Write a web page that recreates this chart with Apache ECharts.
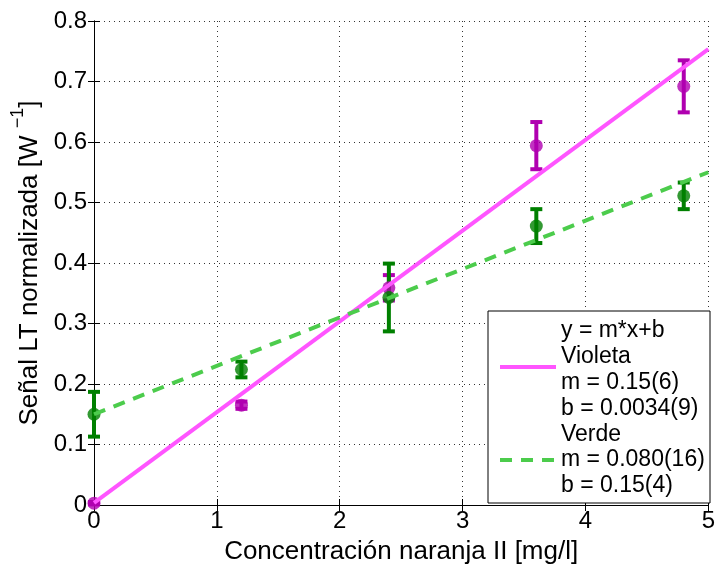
<!DOCTYPE html>
<html>
<head>
<meta charset="utf-8">
<script src="https://cdn.jsdelivr.net/npm/echarts@6/dist/echarts.min.js"></script>
<style>
html,body{margin:0;padding:0;background:#fff;}
#chart{width:718px;height:570px;}
</style>
</head>
<body>
<div id="chart"></div>
<script>
// ---- data ----
const concentrations = [0, 1.2, 2.4, 3.6, 4.8];
const violetValues = [0.003, 0.165, 0.359, 0.594, 0.692];
const violetErrors = [0.002, 0.006, 0.021, 0.039, 0.043];
const greenValues = [0.150, 0.224, 0.343, 0.461, 0.511];
const greenErrors = [0.037, 0.013, 0.056, 0.028, 0.022];
const violetFitX = [0, 5];
const violetFitY = [0.0034, 0.7534];
const greenFitX = [0, 5];
const greenFitY = [0.15, 0.55];
const xTicks = [0, 1, 2, 3, 4, 5];
const yTicks = [0, 0.1, 0.2, 0.3, 0.4, 0.5, 0.6, 0.7, 0.8];
const legendLines = ['y = m*x+b', 'Violeta', 'm = 0.15(6)', 'b = 0.0034(9)', 'Verde', 'm = 0.080(16)', 'b = 0.15(4)'];

const FONT = "'Liberation Sans', Arial, Helvetica, sans-serif";
const PURPLE = '#b000b0';
const GREEN = '#008000';
const MAGENTA = '#ff55ff';
const LGREEN = '#4ccc4c';

function pairs(xs, ys, es) {
  return xs.map((x, i) => es ? [x, ys[i], es[i]] : [x, ys[i]]);
}

function errRender(color) {
  return function (params, api) {
    const x = api.value(0), y = api.value(1), e = api.value(2);
    const top = api.coord([x, y + e]);
    const bot = api.coord([x, y - e]);
    const hw = 6;
    const st = { stroke: color, lineWidth: 4 };
    return {
      type: 'group',
      children: [
        { type: 'line', shape: { x1: top[0], y1: top[1], x2: bot[0], y2: bot[1] }, style: st },
        { type: 'line', shape: { x1: top[0] - hw, y1: top[1], x2: top[0] + hw, y2: top[1] }, style: st },
        { type: 'line', shape: { x1: bot[0] - hw, y1: bot[1], x2: bot[0] + hw, y2: bot[1] }, style: st }
      ]
    };
  };
}

const xMin = xTicks[0], xMax = xTicks[xTicks.length - 1];
const yMin = yTicks[0], yMax = yTicks[yTicks.length - 1];

const axisCommon = {
  type: 'value',
  axisLine: { show: true, lineStyle: { color: '#000', width: 1 } },
  axisTick: { show: true, inside: true, length: 6, lineStyle: { color: '#000', width: 1 } },
  splitLine: { show: false },
};

const legendX0 = 488, legendY0 = 311, legendW = 222, legendH = 192;
const textX = 561, textY0 = 331, textStep = 25.8;
const graphics = [
  { type: 'rect', shape: { x: legendX0, y: legendY0, width: legendW, height: legendH },
    style: { fill: '#fff', stroke: '#000', lineWidth: 1 }, z: 100 },
  { type: 'line', shape: { x1: 500, y1: 367, x2: 556, y2: 367 },
    style: { stroke: MAGENTA, lineWidth: 4 }, z: 101 },
  { type: 'line', shape: { x1: 500, y1: textY0 + 5 * textStep, x2: 556, y2: textY0 + 5 * textStep },
    style: { stroke: LGREEN, lineWidth: 4, lineDash: [12, 9] }, z: 101 }
];
legendLines.forEach((t, i) => {
  graphics.push({
    type: 'text', x: textX, y: textY0 + i * textStep, z: 101,
    style: { text: t, font: '23px ' + FONT, fill: '#000', textAlign: 'left', textVerticalAlign: 'middle' }
  });
});

const chart = echarts.init(document.getElementById('chart'), null, { renderer: 'canvas' });
chart.setOption({
  animation: false,
  backgroundColor: '#fff',
  textStyle: { fontFamily: FONT },
  grid: { left: 94, right: 8, top: 21, bottom: 63, containLabel: false },
  xAxis: [
    Object.assign({}, axisCommon, {
      position: 'bottom', min: xMin, max: xMax, interval: 1,
      name: 'Concentración naranja II [mg/l]', nameLocation: 'middle', nameGap: 34,
      nameTextStyle: { fontSize: 26, color: '#000', fontFamily: FONT },
      axisLabel: { fontSize: 24, color: '#000', margin: 4, fontFamily: FONT },
      splitLine: { show: true, lineStyle: { color: '#333', width: 1, type: [1, 4] } }
    }),
    Object.assign({}, axisCommon, {
      position: 'top', min: xMin, max: xMax, interval: 1,
      axisLabel: { show: false }
    })
  ],
  yAxis: [
    Object.assign({}, axisCommon, {
      position: 'left', min: yMin, max: yMax, interval: 0.1,
      name: '{n|Señal LT normalizada [W }{s|−1}{n|]}', nameLocation: 'middle', nameGap: 50, nameRotate: 90,
      nameTextStyle: {
        fontSize: 26, color: '#000', fontFamily: FONT,
        rich: {
          n: { fontSize: 26, lineHeight: 34, verticalAlign: 'bottom', color: '#000', fontFamily: FONT },
          s: { fontSize: 18, lineHeight: 14, verticalAlign: 'top', color: '#000', fontFamily: FONT }
        }
      },
      axisLabel: { fontSize: 24, color: '#000', margin: 7, fontFamily: FONT },
      splitLine: { show: true, lineStyle: { color: '#333', width: 1, type: [1, 4] } }
    }),
    Object.assign({}, axisCommon, {
      position: 'right', min: yMin, max: yMax, interval: 0.1,
      axisLabel: { show: false }
    })
  ],
  series: [
    { type: 'custom', name: 'violetErr', renderItem: errRender(PURPLE),
      data: pairs(concentrations, violetValues, violetErrors), z: 2, clip: false },
    { type: 'scatter', name: 'violet', data: pairs(concentrations, violetValues),
      symbol: 'circle', symbolSize: 13, itemStyle: { color: PURPLE }, z: 3 },
    { type: 'custom', name: 'greenErr', renderItem: errRender(GREEN),
      data: pairs(concentrations, greenValues, greenErrors), z: 2, clip: false },
    { type: 'scatter', name: 'green', data: pairs(concentrations, greenValues),
      symbol: 'circle', symbolSize: 13, itemStyle: { color: GREEN }, z: 3 },
    { type: 'line', name: 'violetFit', data: pairs(violetFitX, violetFitY), showSymbol: false,
      lineStyle: { color: MAGENTA, width: 4 }, z: 4 },
    { type: 'line', name: 'greenFit', data: pairs(greenFitX, greenFitY), showSymbol: false,
      lineStyle: { color: LGREEN, width: 4, type: [12, 9] }, z: 4 }
  ],
  graphic: graphics
});
</script>
</body>
</html>
